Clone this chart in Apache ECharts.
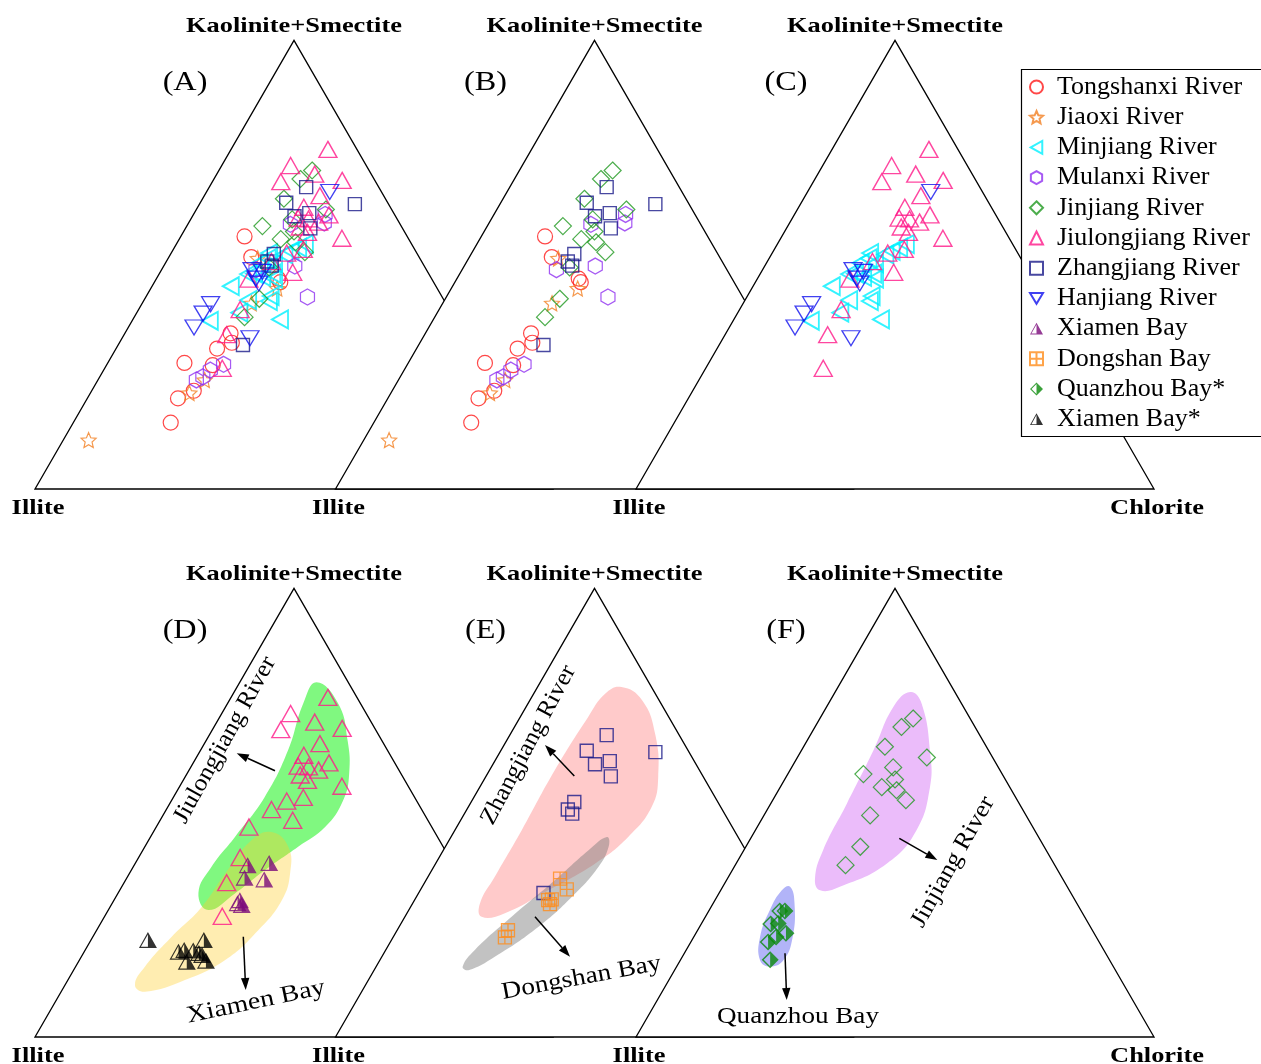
<!DOCTYPE html>
<html>
<head>
<meta charset="utf-8">
<title>Clay mineral ternary diagrams</title>
<script src="https://cdn.jsdelivr.net/npm/echarts@6/dist/echarts.min.js"></script>
<style>
html,body{margin:0;padding:0;background:#fff;}
#chart{width:1261px;height:1064px;}
</style>
</head>
<body>
<div id="chart"></div>
<script>
// Clay mineral assemblages (%), each sample as [Kaolinite+Smectite, Illite, Chlorite]
const tongshanxi = [[56.3,31.4,12.3],[51.7,32.4,15.9],[46.9,29.6,23.5],[46.1,29.6,24.3],[34.7,44.9,20.4],[32.6,45.7,21.7],[31.3,49.2,19.5],[28.1,57.1,14.8],[27.6,51.9,20.5],[21.9,58.4,19.7],[20.2,62.3,17.5],[14.8,66.4,18.8]];
const jiaoxi = [[51.4,31.3,17.3],[44.7,30.9,24.4],[41.4,37.5,21.1],[24.3,55.1,20.6],[21.4,59.5,19.1],[10.9,84.2,4.9]];
const minjiang = [[54.6,20.6,24.8],[53.8,22.3,23.9],[53.1,24.1,22.8],[52.3,25.7,22.0],[52.6,28.5,18.9],[51.4,29.4,19.2],[50.3,28.7,21.0],[50.4,31.4,18.2],[48.0,30.2,21.8],[48.0,33.7,18.3],[47.3,32.5,20.2],[46.9,30.4,22.7],[47.9,34.9,17.2],[45.2,39.6,15.2],[42.1,37.8,20.1],[43.0,33.0,24.0],[41.9,33.9,24.2],[39.3,40.9,19.8],[37.5,47.5,15.0],[37.8,33.8,28.4]];
const mulanxi = [[59.0,21.2,19.8],[61.2,13.4,25.4],[59.3,14.5,26.2],[48.9,32.9,18.2],[49.7,25.0,25.3],[42.8,26.0,31.2],[27.8,49.7,22.5],[26.5,52.9,20.6],[25.0,55.1,19.9],[24.3,56.7,19.0]];
const jinjiang = [[71.0,11.0,18.0],[69.1,14.2,16.7],[64.7,19.6,15.7],[62.3,12.7,25.0],[58.6,26.8,14.6],[60.1,20.3,19.6],[57.4,21.3,21.3],[55.7,24.7,19.6],[55.0,22.2,22.8],[52.8,21.5,25.7],[49.4,30.1,20.5],[42.4,35.5,22.1],[38.3,40.4,21.3]];
const jiulongjiang = [[75.7,5.6,18.7],[72.1,14.6,13.3],[68.5,18.3,13.2],[70.2,10.9,18.9],[68.8,6.3,24.9],[65.4,12.3,22.3],[62.8,16.7,20.5],[61.1,12.7,26.2],[60.4,19.0,20.6],[60.2,17.1,22.7],[59.5,15.5,25.0],[58.4,19.6,22.0],[57.2,18.8,24.0],[55.9,12.8,31.3],[53.4,21.5,25.1],[52.6,25.1,22.3],[50.7,29.0,20.3],[48.3,26.1,25.6],[46.8,35.3,17.9],[40.0,40.4,19.6],[34.4,45.8,19.8],[26.9,50.4,22.7]];
const zhangjiang = [[67.3,14.0,18.7],[63.8,19.6,16.6],[60.8,19.5,19.7],[61.5,16.3,22.2],[58.1,17.8,24.1],[63.5,6.5,30.0],[52.4,27.7,19.9],[50.7,29.8,19.5],[49.8,29.4,20.8],[32.1,43.8,24.1]];
const hanjiang = [[66.2,10.0,23.8],[41.2,45.5,13.3],[39.1,48.0,12.9],[36.0,51.3,12.7],[33.6,41.7,24.7],[46.9,33.9,19.2],[45.8,33.9,20.3],[48.4,31.9,19.7],[48.8,33.7,17.5]];
const xiamenBay = [[38.3,39.8,21.9],[38.8,35.4,25.8],[35.5,41.8,22.7],[35.1,38.2,26.7],[29.8,46.0,24.2],[30.5,45.2,24.3],[29.4,45.4,25.2]];
const dongshanBay = [[35.3,39.0,25.7],[32.9,38.9,28.2],[30.7,42.9,26.4],[29.6,43.8,26.6],[23.8,54.8,21.4],[22.2,56.2,21.6],[30.5,43.7,25.8]];
const quanzhouBayStar = [[28.1,58.2,13.7],[28.1,57.2,14.7],[25.2,61.4,13.4],[25.3,59.9,14.8],[23.1,59.5,17.4],[21.2,63.9,14.9],[22.3,61.8,15.9],[17.2,65.5,17.3]];
const xiamenBayStar = [[21.6,67.4,11.0],[19.0,62.8,18.2],[16.8,62.3,20.9],[19.3,59.8,20.9],[21.6,56.6,21.8],[18.7,59.0,22.3],[17.0,58.5,24.5],[18.3,58.6,23.1],[19.4,61.5,19.1]];

// Compositional fields outlined around the river and bay samples, same convention
const jiulongjiangZone = [[79.1,6.1,14.8],[74.3,4.3,21.4],[66.1,6.6,27.3],[58.7,10.0,31.3],[52.8,14.1,33.1],[46.8,20.6,32.6],[42.4,28.0,29.6],[37.2,37.0,25.8],[32.0,45.4,22.6],[28.3,52.4,19.3],[32.1,52.4,15.5],[37.9,47.0,15.1],[44.6,39.1,16.3],[53.5,28.9,17.6],[63.9,19.2,16.9],[74.4,11.0,14.6]];
const xiamenZone = [[45.7,31.5,22.8],[42.4,29.9,27.7],[36.5,32.5,31.0],[30.5,37.1,32.4],[23.8,45.0,31.2],[17.1,54.8,28.1],[12.7,64.7,22.6],[10.1,73.7,16.2],[11.6,74.9,13.5],[15.7,70.9,13.4],[22.3,62.5,15.2],[29.0,53.3,17.7],[36.5,45.0,18.5],[43.9,36.2,19.9]];
const zhangjiangZone = [[78.0,5.8,16.2],[75.1,3.3,21.6],[67.6,4.5,27.9],[58.0,8.7,33.3],[51.3,13.3,35.4],[44.6,21.2,34.2],[38.7,30.5,30.8],[32.7,42.6,24.7],[27.6,53.5,18.9],[26.8,58.4,14.8],[29.8,57.2,13.0],[35.7,51.4,12.9],[46.1,41.0,12.9],[59.5,27.9,12.6],[71.3,15.6,13.1],[76.5,9.7,13.8]];
const dongshanZone = [[44.6,25.3,30.1],[42.5,26.0,31.5],[37.9,30.3,31.8],[31.2,38.8,30.0],[24.6,48.5,26.9],[17.9,60.3,21.8],[14.9,66.9,18.2],[15.7,67.6,16.7],[19.4,63.4,17.2],[26.8,52.6,20.6],[35.0,40.1,24.9],[41.6,30.4,28.0]];
const jinjiangZone = [[76.9,8.6,14.5],[74.3,7.7,18.0],[63.2,11.6,25.2],[55.7,15.4,28.9],[46.1,22.8,31.1],[38.7,32.2,29.1],[33.5,43.9,22.6],[32.7,48.1,19.2],[35.3,47.8,16.9],[41.6,43.1,15.3],[52.0,33.3,14.7],[63.9,22.2,13.9],[73.6,13.5,12.9]];
const quanzhouZone = [[33.5,53.5,13.0],[29.8,54.5,15.7],[22.3,58.6,19.1],[17.1,63.0,19.9],[15.7,66.3,18.0],[17.1,67.5,15.4],[22.3,64.9,12.8],[28.3,60.0,11.7],[32.7,55.5,11.8]];

// Text
const apexLabel = 'Kaolinite+Smectite';
const leftLabel = 'Illite';
const rightLabel = 'Chlorite';
const panelLetters = ['(A)','(B)','(C)','(D)','(E)','(F)'];

// ---------- layout ----------
const SIDE = 518;
const TRI_H = SIDE * Math.sqrt(3) / 2;
const panelIds = ['A','B','C','D','E','F'];
// left (Illite) corner of each triangle in plot units
const origin = { A:[35,489], B:[335.5,489], C:[636,489], D:[35,1037], E:[335.5,1037], F:[636,1037] };

function toXY(panel, v) {
  const o = origin[panel];
  const k = v[0] / 100, c = v[2] / 100;
  return [o[0] + SIDE * (c + k / 2), o[1] - TRI_H * k];
}

const SERIF = '"Liberation Serif","Times New Roman",serif';

function polyPath(pts) {
  return 'path://' + pts.map((p, i) => (i ? 'L' : 'M') + p[0].toFixed(2) + ' ' + p[1].toFixed(2)).join(' ') + ' Z';
}
const hexSymbol = polyPath(Array.from({length: 6}, (_, i) => {
  const a = -Math.PI / 2 + i * Math.PI / 3;
  return [10 + 10 * Math.cos(a), 10 + 10 * Math.sin(a)];
}));
const starSymbol = polyPath(Array.from({length: 10}, (_, i) => {
  const r = i % 2 ? 4.6 : 10, a = -Math.PI / 2 + i * Math.PI / 5;
  return [10 + r * Math.cos(a), 10 + r * Math.sin(a)];
}));
const leftTriangle = 'path://M0 9 L16 0 L16 18 Z';
const downTriangle = 'path://M0 0 L18 0 L9 15 Z';
// outline with the right half filled (inner left half is a reversed sub-path, i.e. a hole)
const halfTriangle = 'path://M50 0 L100 90 L0 90 Z M50 13 L11 83 L50 83 Z';
const halfDiamond = 'path://M50 0 L100 50 L50 100 L0 50 Z M50 12 L12 50 L50 88 Z';
const crossSquare = 'path://M0 0 L20 0 L20 20 L0 20 Z M10 0 L10 20 M0 10 L20 10';

const groups = [
  {name:'Tongshanxi River', values:tongshanxi, panels:['A','B'], symbol:'circle', size:15, color:'#ff1a1a', lw:1.2},
  {name:'Jiaoxi River', values:jiaoxi, panels:['A','B'], symbol:starSymbol, size:15, color:'#f28022', lw:1.2},
  {name:'Minjiang River', values:minjiang, panels:['A','C'], symbol:leftTriangle, size:[16,18], color:'#00f0ff', lw:1.9},
  {name:'Mulanxi River', values:mulanxi, panels:['A','B'], symbol:hexSymbol, size:[14,16], color:'#9030f0', lw:1.3},
  {name:'Jinjiang River', values:jinjiang, panels:['A','B','F'], symbol:'diamond', size:17, color:'#1f991f', lw:1.2},
  {name:'Jiulongjiang River', values:jiulongjiang, panels:['A','C','D'], symbol:'triangle', size:[18,16], color:'#ff1888', lw:1.4},
  {name:'Zhangjiang River', values:zhangjiang, panels:['A','B','E'], symbol:'rect', size:13, color:'#1a1a8a', lw:1.4},
  {name:'Hanjiang River', values:hanjiang, panels:['A','C'], symbol:downTriangle, size:[18,15], color:'#1010ee', lw:1.3},
  {name:'Xiamen Bay', values:xiamenBay, panels:['D'], symbol:halfTriangle, size:[18,16], color:'#7a0a7a', filled:true},
  {name:'Dongshan Bay', values:dongshanBay, panels:['E'], symbol:crossSquare, size:13, color:'#ff8c1a', lw:1.3},
  {name:'Quanzhou Bay*', values:quanzhouBayStar, panels:['F'], symbol:halfDiamond, size:17, color:'#0a8a0a', filled:true},
  {name:'Xiamen Bay*', values:xiamenBayStar, panels:['D'], symbol:halfTriangle, size:[18,16], color:'#000000', filled:true}
];

const zones = [
  {values:jiulongjiangZone, panel:'D', fill:'#80f880'},
  {values:xiamenZone, panel:'D', fill:'rgba(255,205,40,0.36)'},
  {values:zhangjiangZone, panel:'E', fill:'#ffcaca'},
  {values:dongshanZone, panel:'E', fill:'rgba(120,120,120,0.45)'},
  {values:jinjiangZone, panel:'F', fill:'#ebbcfa'},
  {values:quanzhouZone, panel:'F', fill:'#b2b4f8'}
];

const series = [];

// triangle frames, drawn in order so each covers the hidden part of the previous one
series.push({
  type:'custom', coordinateSystem:'cartesian2d', silent:true, z:1, clip:false,
  data: panelIds.map((p, i) => [i, 0]),
  renderItem(params, api) {
    const p = panelIds[params.dataIndex];
    const pts = [[0,100,0],[100,0,0],[0,0,100]].map(v => api.coord(toXY(p, v)));
    return {type:'polygon', shape:{points:pts}, style:{fill:'#fff', stroke:'#000', lineWidth:1.3}};
  }
});

// shaded fields
series.push({
  type:'custom', coordinateSystem:'cartesian2d', silent:true, z:2, clip:false,
  data: zones.map((z, i) => [i, 0]),
  renderItem(params, api) {
    const z = zones[params.dataIndex];
    const pts = z.values.map(v => api.coord(toXY(z.panel, v)));
    return {type:'polygon', shape:{points:pts, smooth:0.45}, style:{fill:z.fill, stroke:null}};
  }
});

// samples
groups.forEach(g => {
  g.panels.forEach(p => {
    series.push({
      type:'scatter', name:g.name, z:3, silent:true,
      symbol:g.symbol, symbolSize:g.size,
      data: g.values.map(v => toXY(p, v)),
      itemStyle: g.filled
        ? {color:g.color, borderWidth:0}
        : {color:'rgba(0,0,0,0)', borderColor:g.color, borderWidth:g.lw},
      emphasis:{disabled:true}
    });
  });
});

// ---------- annotations ----------
const graphics = [];
function addText(x, y, text, font, opts) {
  graphics.push(Object.assign({
    type:'text', x:x, y:y, z:10, silent:true,
    style:{text:text, font:font, fill:'#000', align:'center', verticalAlign:'middle'}
  }, opts || {}));
}
function addArrow(x0, y0, x1, y1) {
  const ang = Math.atan2(y1 - y0, x1 - x0);
  const L = 12, Wd = 4.2;
  const bx = x1 - L * Math.cos(ang), by = y1 - L * Math.sin(ang);
  graphics.push({type:'line', z:10, silent:true, shape:{x1:x0, y1:y0, x2:bx, y2:by}, style:{stroke:'#000', lineWidth:1.5}});
  graphics.push({type:'polygon', z:10, silent:true, shape:{points:[
    [x1, y1],
    [bx + Wd * Math.sin(ang), by - Wd * Math.cos(ang)],
    [bx - Wd * Math.sin(ang), by + Wd * Math.cos(ang)]
  ]}, style:{fill:'#000'}});
}

const deg = Math.PI / 180;
const boldFont = 'bold 22px ' + SERIF;
panelIds.forEach((p, i) => {
  const o = origin[p];
  addText(o[0] + SIDE / 2, o[1] - TRI_H - 14, apexLabel, boldFont, {scaleX:1.2});
  addText(o[0] + 150, o[1] - 406, panelLetters[i], '28px ' + SERIF, {scaleX:1.15});
  addText(o[0] + 3, o[1] + 19, leftLabel, boldFont, {scaleX:1.2});
});
addText(origin.C[0] + SIDE + 3, origin.C[1] + 19, rightLabel, boldFont, {scaleX:1.2});
addText(origin.F[0] + SIDE + 3, origin.F[1] + 19, rightLabel, boldFont, {scaleX:1.2});

// field labels and arrows (offsets from each panel's Illite corner)
function rel(p, dx, dy) { return [origin[p][0] + dx, origin[p][1] + dy]; }
const regFont = '24px ' + SERIF;
let q;
q = rel('D', 190, -297); addText(q[0], q[1], 'Jiulongjiang River', regFont, {rotation:61 * deg, scaleX:1.05});
q = rel('D', 221, -35);  addText(q[0], q[1], 'Xiamen Bay', regFont, {rotation:12 * deg, scaleX:1.17});
q = rel('E', 193, -292); addText(q[0], q[1], 'Zhangjiang River', regFont, {rotation:62 * deg, scaleX:1.05});
q = rel('E', 246, -59);  addText(q[0], q[1], 'Dongshan Bay', regFont, {rotation:10.5 * deg, scaleX:1.14});
q = rel('F', 317, -175); addText(q[0], q[1], 'Jinjiang River', regFont, {rotation:60.5 * deg, scaleX:1.08});
q = rel('F', 162, -20);  addText(q[0], q[1], 'Quanzhou Bay', regFont, {scaleX:1.13});

function relArrow(p, a, b, c, d) { const s = rel(p, a, b), e = rel(p, c, d); addArrow(s[0], s[1], e[0], e[1]); }
relArrow('D', 240, -266.3, 201.7, -283.7);
relArrow('D', 208.3, -100.3, 210.7, -47);
relArrow('E', 238.8, -261, 209.5, -292);
relArrow('E', 199.5, -120.3, 234.5, -80.3);
relArrow('F', 263.3, -198.7, 301.3, -177);
relArrow('F', 149, -83.7, 150.7, -37);

// legend frame, covering the triangle edge behind it
graphics.push({type:'rect', z:20, silent:true, shape:{x:1021.5, y:69.5, width:245, height:367}, style:{fill:'#fff', stroke:'#000', lineWidth:1.2}});

const chart = echarts.init(document.getElementById('chart'), null, {renderer:'canvas'});
chart.setOption({
  animation:false,
  backgroundColor:'#fff',
  grid:{left:0, top:0, width:1261, height:1064, containLabel:false},
  xAxis:{type:'value', min:0, max:1261, show:false},
  yAxis:{type:'value', min:0, max:1064, inverse:true, show:false},
  tooltip:{show:false},
  legend:{
    data: groups.map(g => g.name),
    orient:'vertical', left:1029, top:74, padding:0, itemGap:4.2,
    itemWidth:13, itemHeight:13, selectedMode:false, z:30,
    textStyle:{fontFamily:SERIF, fontSize:26, color:'#000', padding:[0,0,0,9]}
  },
  graphic: graphics,
  series: series
});
</script>
</body>
</html>
